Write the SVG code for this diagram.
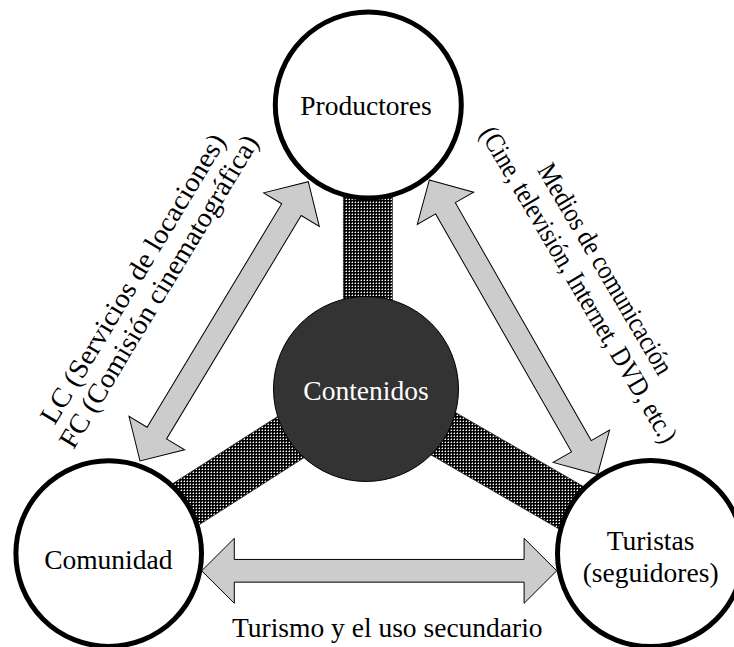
<svg xmlns="http://www.w3.org/2000/svg" width="734" height="647" viewBox="0 0 734 647">
  <defs>
    <!-- fine dot screen used for the content bars -->
    <pattern id="dots" width="3" height="3" patternUnits="userSpaceOnUse">
      <rect width="3" height="3" fill="#000"/>
      <rect x="1" y="1" width="1" height="1" fill="#fff"/>
      <rect x="0" y="1" width="1" height="1" fill="#777"/>
      <rect x="1" y="0" width="1" height="1" fill="#777"/>
    </pattern>
  </defs>
  <style>
    text { font-family: "Liberation Serif", "Times New Roman", serif; font-size: 27.5px; fill: #000; }
    .node { fill: #fff; stroke: #000; stroke-width: 5; }
    .core { fill: #333; stroke: #000; stroke-width: 1; }
    .bar { fill: url(#dots); stroke: #222; stroke-width: 0.75; }
    .arrow { fill: #ccc; stroke: #000; stroke-width: 1; stroke-linejoin: miter; }
    .light { fill: #fff; }
  </style>

  <!-- content bars linking the centre to each actor -->
  <g id="content-links">
    <rect class="bar" x="343.3" y="105" width="49" height="284"/>
    <polygon class="bar" points="352.8,368.4 379.2,409.6 121.9,574.2 95.5,533"/>
    <polygon class="bar" points="378.3,367.8 353.7,410.2 638.2,574.8 662.8,532.4"/>
  </g>

  <g id="productores">
    <circle class="node" cx="368.3" cy="105" r="93"/>
    <text x="366" y="115" text-anchor="middle">Productores</text>
  </g>

  <g id="comunidad">
    <circle class="node" cx="108.7" cy="553.6" r="92.8"/>
    <text x="108.3" y="569" text-anchor="middle">Comunidad</text>
  </g>

  <g id="turistas">
    <circle class="node" cx="650.5" cy="553.6" r="93"/>
    <text x="650.6" y="550" text-anchor="middle">Turistas</text>
    <text x="650.6" y="581.7" text-anchor="middle">(seguidores)</text>
  </g>

  <g id="contenidos">
    <circle class="core" cx="366" cy="389" r="92.5"/>
    <text class="light" x="366" y="400" text-anchor="middle">Contenidos</text>
  </g>

  <!-- two-way relations between the actors -->
  <g id="relations">
    <polygon class="arrow" transform="translate(140,461) rotate(-58.93)"
      points="0,0 32.6,-32.5 32.6,-11.35 293.5,-11.35 293.5,-32.5 326.1,0 293.5,32.5 293.5,11.35 32.6,11.35 32.6,32.5"/>
    <polygon class="arrow" transform="translate(429.3,180) rotate(60.27)"
      points="0,0 32.6,-32.5 32.6,-11.35 306.6,-11.35 306.6,-32.5 339.2,0 306.6,32.5 306.6,11.35 32.6,11.35 32.6,32.5"/>
    <polygon class="arrow" transform="translate(201.7,570.8)"
      points="0,0 32.6,-32.5 32.6,-11.35 322.4,-11.35 322.4,-32.5 355,0 322.4,32.5 322.4,11.35 32.6,11.35 32.6,32.5"/>

    <text transform="translate(140.5,283.5) rotate(-58.93)" text-anchor="middle" textLength="333" lengthAdjust="spacingAndGlyphs">LC (Servicios de locaciones)</text>
    <text transform="translate(166.4,296.1) rotate(-58.93)" text-anchor="middle" textLength="360" lengthAdjust="spacingAndGlyphs">FC (Comisión cinematográfica)</text>

    <text transform="translate(597.7,273.4) rotate(59.5)" text-anchor="middle" textLength="240" lengthAdjust="spacingAndGlyphs">Medios de comunicación</text>
    <text transform="translate(571,289.1) rotate(59.5)" text-anchor="middle" textLength="362" lengthAdjust="spacingAndGlyphs">(Cine, televisión, Internet, DVD, etc.)</text>

    <text x="387.3" y="636.7" text-anchor="middle">Turismo y el uso secundario</text>
  </g>
</svg>
